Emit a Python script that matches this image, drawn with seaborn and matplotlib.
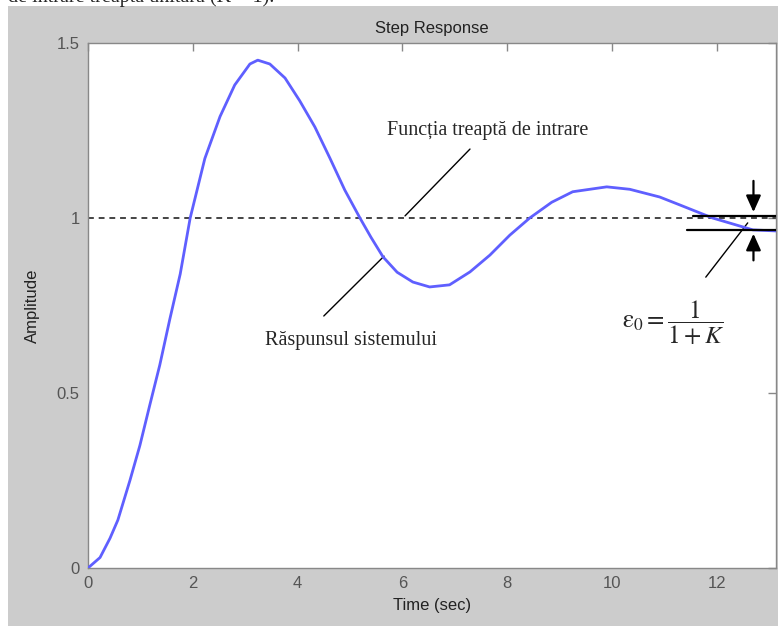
import numpy as np
import pandas as pd
import matplotlib
matplotlib.use("Agg")
import matplotlib.pyplot as plt
from matplotlib.patches import Rectangle
import seaborn as sns

# ---------- data ----------
time_s = [0.00, 0.23, 0.42, 0.57, 0.80, 0.99, 1.18, 1.37, 1.56, 1.76, 1.95,
          2.23, 2.52, 2.80, 3.09, 3.24, 3.47, 3.76, 4.04, 4.33, 4.62, 4.90,
          5.19, 5.40, 5.63, 5.90, 6.20, 6.52, 6.90, 7.29, 7.67, 8.05, 8.43,
          8.85, 9.25, 9.90, 10.34, 10.91, 11.30, 11.92, 12.69, 13.13]
amplitude = [0.000, 0.030, 0.085, 0.137, 0.250, 0.350, 0.466, 0.580, 0.710, 0.840, 1.000,
             1.170, 1.290, 1.380, 1.440, 1.451, 1.440, 1.400, 1.335, 1.260, 1.170, 1.080,
             1.000, 0.945, 0.889, 0.845, 0.817, 0.803, 0.809, 0.846, 0.894, 0.951, 1.000,
             1.045, 1.075, 1.089, 1.082, 1.060, 1.037, 1.000, 0.966, 0.963]
step_level = 1.0
steady_level = 0.966
x_ticks = [0, 2, 4, 6, 8, 10, 12]
y_ticks = [0, 0.5, 1, 1.5]
y_tick_labels = ["0", "0.5", "1", "1.5"]

df = pd.DataFrame({"t": time_s, "y": amplitude})

# ---------- figure ----------
sns.set_style("white")
plt.rcParams["font.family"] = ["Liberation Sans", "DejaVu Sans"]
plt.rcParams["mathtext.fontset"] = "stix"

fig = plt.figure(figsize=(7.78, 6.26), dpi=100)
fig.patch.set_facecolor("white")
# matlab-like grey panel behind the axes
fig.patches.append(Rectangle((8 / 778, 0), 1, 1 - 6 / 626, transform=fig.transFigure,
                             facecolor="#cccccc", edgecolor="none", zorder=-10))
fig.text(8 / 778, 1 - 2 / 626, "de intrare treaptă unitară (K = 1).",
         family=["Liberation Serif", "DejaVu Serif"], fontsize=14.5, va="baseline", ha="left")

ax = fig.add_axes([88 / 778, 58 / 626, 688 / 778, 525 / 626])
ax.set_facecolor("white")

ax.axhline(step_level, color="#444444", lw=1.4, ls=(0, (3, 2.5)), zorder=2)
sns.lineplot(data=df, x="t", y="y", ax=ax, color="#5f5fff", lw=2, sort=False, zorder=3)

ax.set_xlim(0, 13.13)
ax.set_ylim(0, 1.5)
ax.set_xticks(x_ticks)
ax.set_yticks(y_ticks)
ax.set_yticklabels(y_tick_labels)
ax.tick_params(direction="in", length=6, width=1, color="#888888", labelcolor="#555555",
               labelsize=12, top=True, right=True, pad=6)
for s in ax.spines.values():
    s.set_color("#888888")
    s.set_linewidth(1)
ax.set_title("Step Response", fontsize=12, color="#222222", pad=7)
ax.set_xlabel("Time (sec)", fontsize=12, color="#222222", labelpad=5)
ax.set_ylabel("Amplitude", fontsize=12, color="#222222", labelpad=12)

# ---------- annotations ----------
serif = ["Liberation Serif", "DejaVu Serif"]
ax.text(7.63, 1.251, "Funcția treaptă de intrare", family=serif, fontsize=14.5,
        ha="center", va="center")
ax.plot([7.29, 6.05], [1.197, 1.006], color="black", lw=1)

ax.text(5.02, 0.649, "Răspunsul sistemului", family=serif, fontsize=14.5,
        ha="center", va="center")
ax.plot([5.65, 4.50], [0.891, 0.72], color="black", lw=1)

ax.text(11.16, 0.700, r"$\mathrm{\varepsilon}_0 = \dfrac{1}{1+K}$", fontsize=18,
        ha="center", va="center")
ax.plot([11.79, 12.59], [0.831, 0.986], color="black", lw=1)

ax.plot([11.54, 13.13], [1.006, 1.006], color="black", lw=1.6, zorder=4)
ax.plot([11.43, 13.13], [steady_level, steady_level], color="black", lw=1.6, zorder=4)
arrow = dict(arrowstyle="-|>,head_length=1.0,head_width=0.45", color="black", lw=1.6)
ax.annotate("", xy=(12.70, 1.009), xytext=(12.70, 1.114), arrowprops=arrow)
ax.annotate("", xy=(12.70, 0.963), xytext=(12.70, 0.871), arrowprops=arrow)

fig.savefig("out.png", dpi=100)
